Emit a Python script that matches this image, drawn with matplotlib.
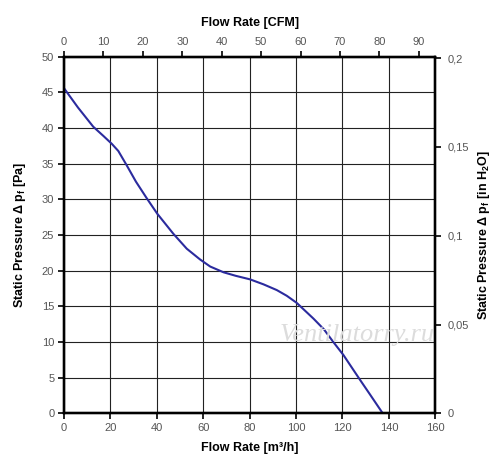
import matplotlib
matplotlib.use("Agg")
import matplotlib.pyplot as plt
from matplotlib.ticker import FixedLocator, FuncFormatter

plt.rcParams['font.family'] = ['Liberation Sans', 'DejaVu Sans']
plt.rcParams['mathtext.fontset'] = 'custom'
plt.rcParams['mathtext.rm'] = 'Liberation Sans'
plt.rcParams['mathtext.bf'] = 'Liberation Sans:bold'

# Data: flow rate (m3/h) vs static pressure (Pa)
flow_m3h = [0, 6.0, 12.6, 17.0, 20.6, 23.4, 27.0, 31.0, 35.6, 40.2, 47.1, 52.9,
            58.6, 63.0, 68.7, 74.0, 80.2, 86.0, 91.7, 96.0, 100.3, 107.5, 112.0,
            116.1, 120.4, 127.6, 132.0, 137.4]
pressure_pa = [45.6, 42.9, 40.2, 38.9, 37.8, 36.8, 34.8, 32.5, 30.2, 28.0, 25.2, 23.1,
               21.6, 20.6, 19.8, 19.3, 18.8, 18.1, 17.3, 16.5, 15.5, 13.3, 11.8,
               10.0, 8.2, 4.7, 2.6, 0.0]

bottom_ticks = [0, 20, 40, 60, 80, 100, 120, 140, 160]
left_ticks = [0, 5, 10, 15, 20, 25, 30, 35, 40, 45, 50]
top_ticks_cfm = [0, 10, 20, 30, 40, 50, 60, 70, 80, 90]
right_ticks_inh2o = [0, 0.05, 0.1, 0.15, 0.2]

M3H_PER_CFM = 1.699
PA_PER_INH2O = 249.089

fig = plt.figure(figsize=(5.0, 4.73), dpi=100)
ax = fig.add_axes([0.128, 0.1258, 0.7426, 0.7541])

ax.plot(flow_m3h, pressure_pa, color='#2b2b9e', lw=1.5, zorder=3)
ax.set_xlim(0, 160)
ax.set_ylim(0, 50)
ax.xaxis.set_major_locator(FixedLocator(bottom_ticks))
ax.yaxis.set_major_locator(FixedLocator(left_ticks))
ax.grid(True, color='#222222', lw=0.8)
for s in ax.spines.values():
    s.set_linewidth(1.6)
    s.set_color('black')
ax.tick_params(direction='out', length=4, width=1.2, labelsize=8, labelcolor='#555555', pad=3)
ax.set_xlabel('Flow Rate [m³/h]', fontsize=9, fontweight='bold', labelpad=6)
ax.set_ylabel(r'Static Pressure Δ $\mathbf{p_f}$ [Pa]', fontsize=9, fontweight='bold', labelpad=10)

# top axis (CFM)
axt = ax.twiny()
axt.set_xlim(0, 160 / M3H_PER_CFM)
axt.xaxis.set_major_locator(FixedLocator(top_ticks_cfm))
axt.tick_params(direction='out', length=4, width=1.2, labelsize=8, labelcolor='#555555', pad=3)
axt.set_xlabel('Flow Rate [CFM]', fontsize=9, fontweight='bold', labelpad=8)

# right axis (in H2O)
axr = ax.twinx()
axr.set_ylim(0, 50 / PA_PER_INH2O)
axr.yaxis.set_major_locator(FixedLocator(right_ticks_inh2o))
axr.yaxis.set_major_formatter(FuncFormatter(lambda v, p: ('%g' % v).replace('.', ',')))
axr.tick_params(direction='out', length=4, width=1.2, labelsize=8, labelcolor='#555555', pad=5)
axr.set_ylabel(r'Static Pressure Δ $\mathbf{p_f}$ [in $\mathbf{H_2O}$]', fontsize=9,
               fontweight='bold', labelpad=5)

for a in (axt, axr):
    for s in a.spines.values():
        s.set_linewidth(1.6)

fig.text(0.714, 0.292, 'Ventilatorry.ru', fontsize=19, style='italic',
         family='Liberation Serif', color='#dcdcdc', ha='center', va='center', zorder=0)

fig.savefig('out.png', dpi=100, facecolor='white')
